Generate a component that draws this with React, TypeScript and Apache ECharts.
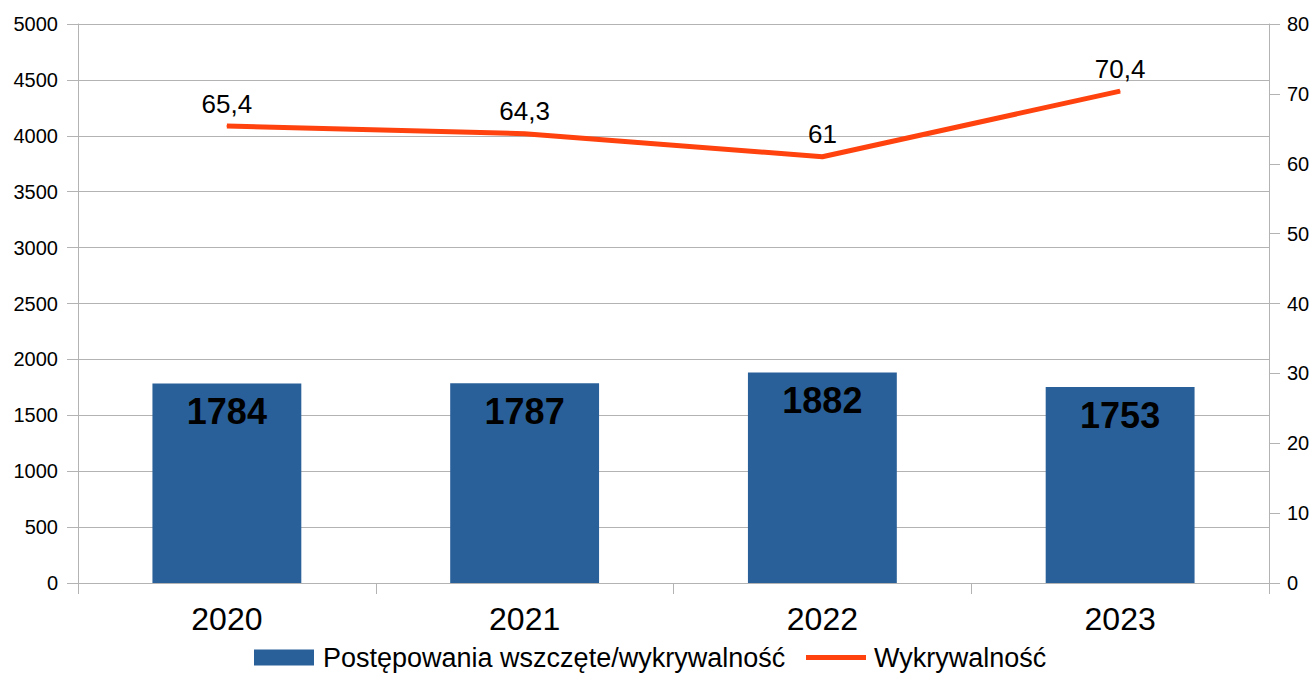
import React, { useEffect, useRef } from "react";
import * as echarts from "echarts";

const categories = ["2020", "2021", "2022", "2023"];
const proceedings = [1784, 1787, 1882, 1753];
const detection = [65.4, 64.3, 61, 70.4];
const barName = "Postępowania wszczęte/wykrywalność";
const lineName = "Wykrywalność";

const FONT = "'Liberation Sans', Arial, sans-serif";
const AXIS_GRAY = "#b3b3b3";

export default function App() {
  const ref = useRef<HTMLDivElement>(null);
  useEffect(() => {
    document.body.style.margin = "0";
    if (!ref.current) return;
    const chart = echarts.init(ref.current, null, { renderer: "svg" });
    chart.setOption({
      animation: false,
      backgroundColor: "#ffffff",
      textStyle: { fontFamily: FONT, color: "#000" },
      grid: { left: 78, right: 47, top: 24, bottom: 90, containLabel: false },
      legend: [
        {
          data: [barName],
          left: 254,
          top: 644,
          padding: 0,
          itemWidth: 60,
          itemHeight: 16,
          icon: "rect",
          textStyle: { fontSize: 27, color: "#000", fontFamily: FONT, padding: [0, 0, 0, 4] },
        },
        {
          data: [lineName],
          left: 806,
          top: 644,
          padding: 0,
          itemWidth: 60,
          itemHeight: 5,
          icon: "rect",
          textStyle: { fontSize: 27, color: "#000", fontFamily: FONT, padding: [0, 0, 0, 3] },
        },
      ],
      xAxis: {
        type: "category",
        data: categories,
        boundaryGap: true,
        axisLine: { show: true, lineStyle: { color: AXIS_GRAY, width: 1 } },
        axisTick: { show: true, length: 11, alignWithLabel: false, lineStyle: { color: AXIS_GRAY } },
        axisLabel: { fontSize: 32, color: "#000", margin: 20, fontFamily: FONT },
      },
      yAxis: [
        {
          type: "value",
          min: 0,
          max: 5000,
          interval: 500,
          position: "left",
          axisLine: { show: true, lineStyle: { color: AXIS_GRAY } },
          axisTick: { show: true, length: 11, lineStyle: { color: AXIS_GRAY } },
          axisLabel: {
            fontSize: 20,
            color: "#000",
            margin: 20,
            fontFamily: FONT,
            formatter: (v: number) => String(v),
          },
          splitLine: { show: true, lineStyle: { color: AXIS_GRAY, width: 1 } },
        },
        {
          type: "value",
          min: 0,
          max: 80,
          interval: 10,
          position: "right",
          axisLine: { show: true, lineStyle: { color: AXIS_GRAY } },
          axisTick: { show: true, length: 11, lineStyle: { color: AXIS_GRAY } },
          axisLabel: {
            fontSize: 20,
            color: "#000",
            margin: 18,
            fontFamily: FONT,
            formatter: (v: number) => String(v),
          },
          splitLine: { show: false },
        },
      ],
      series: [
        {
          name: barName,
          type: "bar",
          data: proceedings,
          yAxisIndex: 0,
          barWidth: "50%",
          itemStyle: { color: "#2a6099" },
          label: {
            show: true,
            position: "insideTop",
            distance: 10,
            fontSize: 36,
            fontWeight: "bold",
            color: "#000",
            fontFamily: FONT,
          },
        },
        {
          name: lineName,
          type: "line",
          data: detection,
          yAxisIndex: 1,
          symbol: "circle",
          symbolSize: 1,
          showSymbol: true,
          lineStyle: { color: "#ff420e", width: 5 },
          itemStyle: { color: "#ff420e" },
          label: {
            show: true,
            position: "top",
            distance: 9,
            fontSize: 26,
            color: "#000",
            fontFamily: FONT,
            formatter: (p: any) => String(p.value).replace(".", ","),
          },
        },
      ],
    });
    return () => chart.dispose();
  }, []);
  return (
    <div
      ref={ref}
      style={{ position: "absolute", left: 0, top: 0, width: 1316, height: 673 }}
    />
  );
}
